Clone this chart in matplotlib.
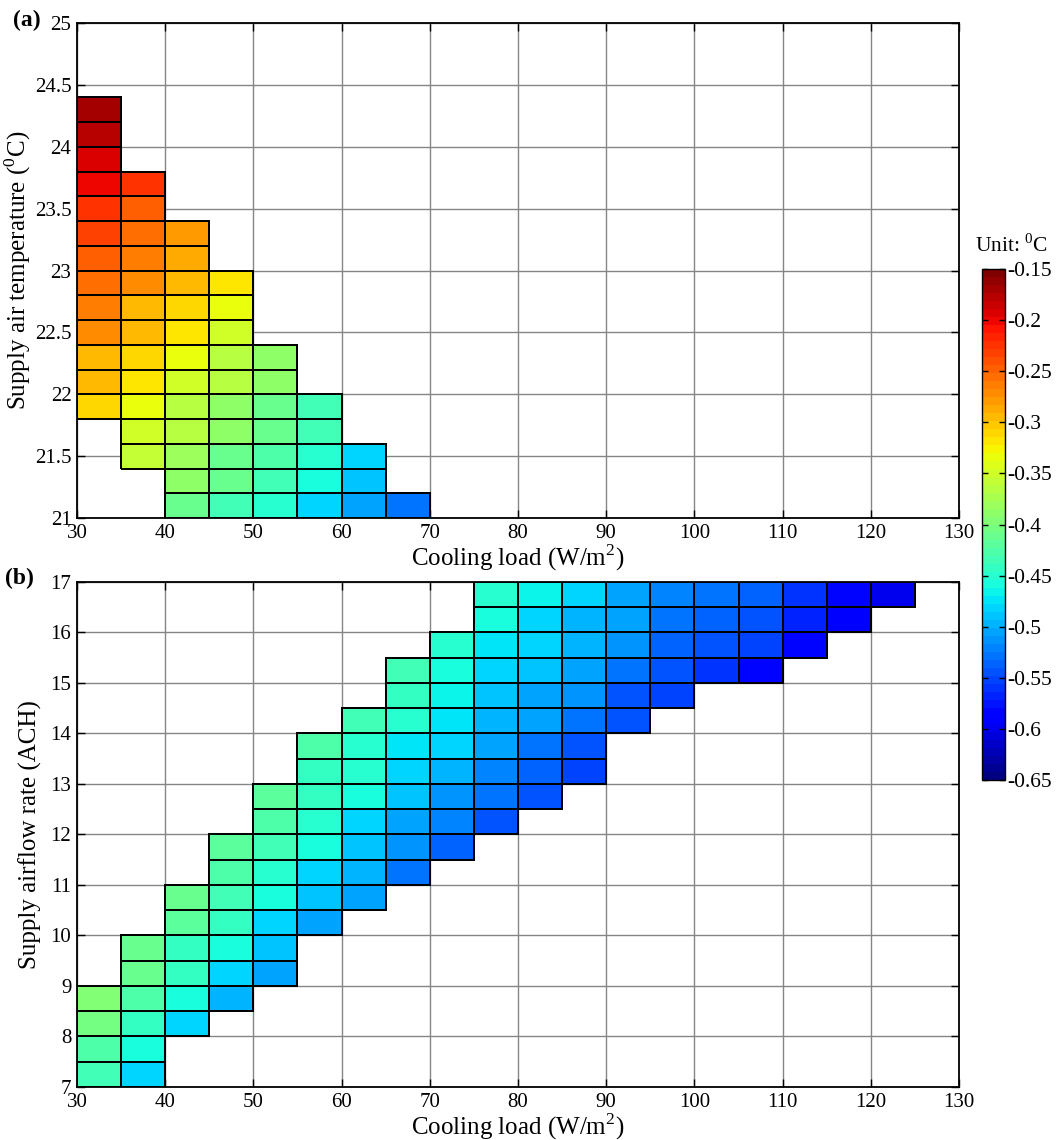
import numpy as np
import matplotlib
matplotlib.use('Agg')
import matplotlib.pyplot as plt
from matplotlib.colors import Normalize
from matplotlib.cm import ScalarMappable

plt.rcParams['font.family'] = ['Liberation Serif', 'DejaVu Serif']
plt.rcParams['mathtext.fontset'] = 'custom'
plt.rcParams['mathtext.rm'] = 'Liberation Serif'
plt.rcParams['axes.unicode_minus'] = False

# ---- data (a): supply air temperature vs cooling load, value = dT (0C) ----
load_step = 5
t_step_a = 0.2
loads_a = [30, 35, 40, 45, 50, 55, 60, 65]
t_start_a = [21.8, 21.4, 21.0, 21.0, 21.0, 21.0, 21.0, 21.0]
a30 = [-0.311, -0.298, -0.291, -0.275, -0.266, -0.252, -0.247, -0.232, -0.222, -0.203, -0.195, -0.180, -0.173]
a35 = [-0.360, -0.347, -0.3375, -0.320, -0.313, -0.298, -0.291, -0.271, -0.266, -0.257, -0.247, -0.227]
a40 = [-0.409, -0.391, -0.384, -0.367, -0.364, -0.347, -0.3375, -0.318, -0.311, -0.293, -0.288, -0.276]
a45 = [-0.435, -0.413, -0.409, -0.391, -0.389, -0.367, -0.364, -0.347, -0.3375, -0.318]
a50 = [-0.453, -0.438, -0.431, -0.413, -0.413, -0.391, -0.389]
a55 = [-0.482, -0.4625, -0.453, -0.438, -0.433]
a60 = [-0.502, -0.487, -0.480]
a65 = [-0.526]
cols_a = [a30, a35, a40, a45, a50, a55, a60, a65]

# ---- data (b): supply airflow rate (ACH) vs cooling load ----
ach_step_b = 0.5
loads_b = [30, 35, 40, 45, 50, 55, 60, 65, 70, 75, 80, 85, 90, 95, 100, 105, 110, 115, 120]
ach_start_b = [7.0, 7.0, 8.0, 8.5, 9.0, 10.0, 10.5, 11.0, 11.5, 12.0, 12.5, 13.0, 14.0, 14.5, 15.0, 15.0, 15.5, 16.0, 16.5]
b30 = [-0.438, -0.426, -0.401, -0.399]
b35 = [-0.480, -0.4625, -0.445, -0.431, -0.413, -0.409]
b40 = [-0.480, -0.4625, -0.445, -0.440, -0.421, -0.411]
b45 = [-0.494, -0.482, -0.4625, -0.443, -0.438, -0.431, -0.421]
b50 = [-0.504, -0.489, -0.485, -0.4625, -0.448, -0.435, -0.431, -0.421]
b55 = [-0.504, -0.489, -0.485, -0.4625, -0.453, -0.443, -0.440, -0.428]
b60 = [-0.509, -0.499, -0.492, -0.482, -0.4625, -0.453, -0.448, -0.438]
b65 = [-0.529, -0.514, -0.502, -0.492, -0.485, -0.472, -0.453, -0.443, -0.438]
b70 = [-0.534, -0.519, -0.511, -0.497, -0.485, -0.477, -0.470, -0.4625, -0.453]
b75 = [-0.541, -0.529, -0.521, -0.502, -0.494, -0.489, -0.480, -0.472, -0.4625, -0.453]
b80 = [-0.548, -0.534, -0.529, -0.509, -0.502, -0.492, -0.485, -0.480, -0.470]
b85 = [-0.556, -0.541, -0.531, -0.516, -0.507, -0.499, -0.494, -0.485]
b90 = [-0.548, -0.541, -0.526, -0.516, -0.509, -0.502]
b95 = [-0.553, -0.548, -0.534, -0.526, -0.519]
b100 = [-0.563, -0.543, -0.534, -0.526]
b105 = [-0.580, -0.556, -0.548, -0.538]
b110 = [-0.583, -0.570, -0.563]
b115 = [-0.590, -0.582]
b120 = [-0.602]
cols_b = [b30, b35, b40, b45, b50, b55, b60, b65, b70, b75, b80, b85, b90, b95, b100, b105, b110, b115, b120]

x_ticks = [30, 40, 50, 60, 70, 80, 90, 100, 110, 120, 130]
y_ticks_a = [21, 21.5, 22, 22.5, 23, 23.5, 24, 24.5, 25]
y_ticks_b = [7, 8, 9, 10, 11, 12, 13, 14, 15, 16, 17]
cb_ticks = [-0.65, -0.6, -0.55, -0.5, -0.45, -0.4, -0.35, -0.3, -0.25, -0.2, -0.15]

cmap = plt.get_cmap('jet', 64)
norm = Normalize(vmin=-0.65, vmax=-0.15)

fig = plt.figure(figsize=(10.63, 11.40), dpi=100)
ax_a = fig.add_axes([0.0724, 0.5456, 0.8298, 0.4342])
ax_b = fig.add_axes([0.0724, 0.0465, 0.8298, 0.4430])
cax = fig.add_axes([0.9238, 0.3158, 0.0216, 0.4482])


def draw_cells(ax, loads, starts, cols, dy):
    for x0, y0, vals in zip(loads, starts, cols):
        v = np.array(vals)[:, None]
        xe = [x0, x0 + load_step]
        ye = y0 + dy * np.arange(len(vals) + 1)
        ax.pcolormesh(xe, ye, v, cmap=cmap, norm=norm, edgecolors='k', linewidth=1.1)


def style(ax, yticks, ylabel, ylab_x):
    ax.set_xlim(x_ticks[0], x_ticks[-1]); ax.set_ylim(yticks[0], yticks[-1])
    ax.set_xticks(x_ticks); ax.set_yticks(yticks)
    ax.set_yticklabels([f'{t:g}' for t in yticks])
    ax.grid(True, color='#858585', lw=1.0)
    ax.set_axisbelow(True)
    ax.tick_params(direction='in', top=True, right=True, length=6, width=1, labelsize=15, pad=4)
    for s in ax.spines.values():
        s.set_linewidth(1.3)
    ax.set_xlabel('Cooling load (W/m$^2$)', fontsize=18, labelpad=0)
    ax.set_ylabel(ylabel, fontsize=18)
    ax.yaxis.set_label_coords(ylab_x, 0.5)


draw_cells(ax_a, loads_a, t_start_a, cols_a, t_step_a)
draw_cells(ax_b, loads_b, ach_start_b, cols_b, ach_step_b)
style(ax_a, y_ticks_a, 'Supply air temperature ($^0$C)', -0.050)
style(ax_b, y_ticks_b, 'Supply airflow rate (ACH)', -0.040)

cb = fig.colorbar(ScalarMappable(norm=norm, cmap=cmap), cax=cax, ticks=cb_ticks)
cb.ax.set_yticklabels([f'{t:g}' for t in cb_ticks])
cb.ax.tick_params(direction='in', left=True, right=True, length=4, width=1, labelsize=15.5, pad=2)
cb.outline.set_linewidth(1.0)

fig.text(0.917, 0.785, 'Unit: $^0$C', fontsize=15.5, va='center', ha='left')
fig.text(0.012, 0.982, '(a)', fontsize=17, fontweight='bold', va='center')
fig.text(0.005, 0.493, '(b)', fontsize=17, fontweight='bold', va='center')

fig.savefig('out.png', dpi=100)
